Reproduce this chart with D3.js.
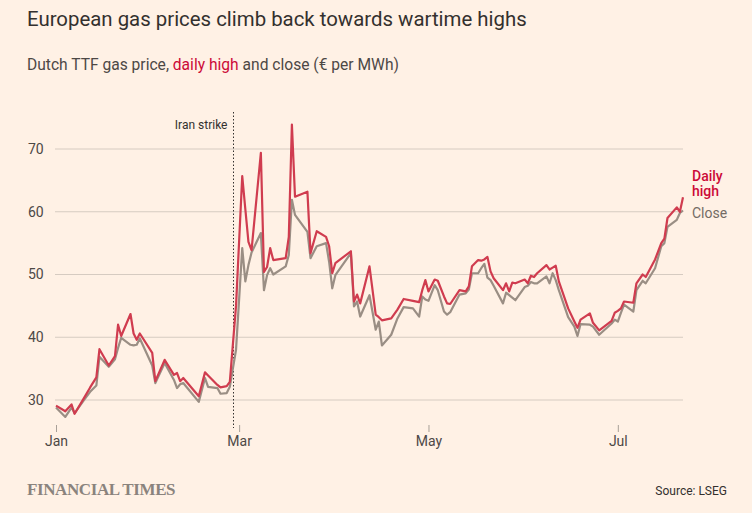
<!DOCTYPE html>
<html>
<head>
<meta charset="utf-8">
<script src="https://cdn.jsdelivr.net/npm/d3@7"></script>
<style>
  body { margin: 0; background: #fff1e5; }
  svg { display: block; }
</style>
</head>
<body>
<svg></svg>
<script>
var dates = [
  "2026-01-01", "2026-01-04", "2026-01-06", "2026-01-07", "2026-01-10", "2026-01-12",
  "2026-01-14", "2026-01-15", "2026-01-18", "2026-01-20", "2026-01-21", "2026-01-22",
  "2026-01-25", "2026-01-26", "2026-01-27", "2026-01-28", "2026-02-01", "2026-02-02",
  "2026-02-05", "2026-02-08", "2026-02-09", "2026-02-10", "2026-02-11", "2026-02-16",
  "2026-02-18", "2026-02-19", "2026-02-22", "2026-02-23", "2026-02-25", "2026-02-26",
  "2026-02-28", "2026-03-02", "2026-03-03", "2026-03-04", "2026-03-05", "2026-03-08",
  "2026-03-09", "2026-03-10", "2026-03-11", "2026-03-12", "2026-03-16", "2026-03-17",
  "2026-03-18", "2026-03-19", "2026-03-23", "2026-03-24", "2026-03-26", "2026-03-29",
  "2026-03-30", "2026-03-31", "2026-04-01", "2026-04-06", "2026-04-07", "2026-04-08",
  "2026-04-09", "2026-04-12", "2026-04-14", "2026-04-15", "2026-04-16", "2026-04-19",
  "2026-04-21", "2026-04-23", "2026-04-26", "2026-04-28", "2026-04-29", "2026-04-30",
  "2026-05-01", "2026-05-03", "2026-05-04", "2026-05-06", "2026-05-07", "2026-05-08",
  "2026-05-11", "2026-05-13", "2026-05-14", "2026-05-15", "2026-05-17", "2026-05-18",
  "2026-05-19", "2026-05-20", "2026-05-21", "2026-05-22", "2026-05-25", "2026-05-26",
  "2026-05-27", "2026-05-28", "2026-05-29", "2026-06-01", "2026-06-02", "2026-06-03",
  "2026-06-04", "2026-06-05", "2026-06-08", "2026-06-09", "2026-06-10", "2026-06-11",
  "2026-06-12", "2026-06-15", "2026-06-17", "2026-06-18", "2026-06-19", "2026-06-22",
  "2026-06-23", "2026-06-25", "2026-06-29", "2026-06-30", "2026-07-01", "2026-07-02",
  "2026-07-03", "2026-07-06", "2026-07-07", "2026-07-09", "2026-07-10", "2026-07-13",
  "2026-07-15", "2026-07-16", "2026-07-17", "2026-07-20", "2026-07-21", "2026-07-22"
];

var dailyHigh = [
  29.1, 28.2, 29.3, 27.8, 30.3, 32.0,
  33.6, 38.1, 35.5, 37.0, 42.0, 40.2,
  43.7, 40.6, 39.6, 40.6, 37.5, 33.0,
  36.4, 34.0, 34.3, 33.0, 33.5, 30.6,
  34.4, 33.9, 32.4, 32.0, 32.2, 32.9,
  45.0, 65.7, 60.4, 55.2, 53.9, 69.4,
  50.4, 51.2, 54.2, 52.3, 52.6, 56.0,
  73.9, 62.4, 63.2, 53.4, 56.9, 56.0,
  54.5, 50.2, 51.8, 53.7, 45.7, 46.8,
  45.4, 51.3, 43.6, 43.2, 42.7, 43.0,
  44.4, 46.1, 45.8, 45.6, 47.5, 49.1,
  47.3, 49.2, 49.0, 46.5, 45.4, 45.3,
  47.5, 47.3, 48.1, 51.3, 52.3, 52.2,
  52.4, 52.8, 50.5, 49.4, 47.5, 48.6,
  47.3, 48.7, 48.6, 49.2, 48.6, 49.8,
  49.6, 50.2, 51.5, 50.8, 51.1, 51.4,
  48.9, 44.6, 42.5, 41.5, 42.8, 43.8,
  42.3, 41.1, 42.6, 43.9, 44.2, 44.6,
  45.7, 45.5, 48.6, 50.0, 49.6, 52.4,
  55.0, 55.7, 59.0, 60.7, 60.0, 62.3
];

var closePrice = [
  28.8, 27.3, 28.8, 27.9, 30.0, 31.3,
  32.3, 36.9, 35.3, 36.5, 38.3, 39.9,
  38.8, 38.7, 38.8, 39.8, 35.5, 32.7,
  35.9, 33.2, 31.9, 32.5, 32.7, 29.7,
  33.5, 32.1, 31.9, 31.0, 31.1, 32.1,
  38.0, 54.2, 48.9, 51.5, 53.5, 56.6,
  47.5, 49.9, 51.0, 50.0, 51.3, 53.1,
  61.9, 59.5, 56.8, 52.6, 54.5, 55.0,
  52.0, 47.8, 49.9, 53.4, 44.9, 45.7,
  43.3, 46.7, 41.2, 42.5, 38.7, 40.4,
  43.0, 44.8, 44.6, 43.3, 46.5, 46.0,
  45.8, 48.3, 47.5, 44.1, 43.6, 44.0,
  46.8, 47.0, 47.6, 50.2, 50.2, 51.0,
  51.7, 49.5, 49.1, 48.2, 45.4, 47.1,
  46.7, 46.3, 45.9, 48.0, 48.2, 48.8,
  48.6, 48.6, 49.7, 48.6, 50.2, 49.1,
  47.5, 43.2, 41.7, 40.2, 42.1, 42.0,
  41.7, 40.4, 42.2, 42.8, 42.5, 43.9,
  45.2, 44.1, 47.5, 49.0, 48.6, 51.0,
  54.5, 55.0, 57.6, 58.7, 59.8, 60.2
];

var yTicks = [30, 40, 50, 60, 70];
var xTickDates = ["2026-01-01", "2026-03-01", "2026-05-01", "2026-07-01"];
var strikeDate = "2026-02-27";

var width = 752,
  height = 513;

var parse = d3.timeParse("%Y-%m-%d");
var font = "Roboto, 'Noto Sans', sans-serif";

var svg = d3.select("svg").attr("width", width).attr("height", height);

svg.append("rect")
  .attr("width", width)
  .attr("height", height)
  .attr("fill", "#fff1e5");

var x = d3
  .scaleTime()
  .domain([parse("2026-01-01"), parse("2026-07-22")])
  .range([56, 683]);

var y = d3.scaleLinear().domain([30, 70]).range([400, 149]);

// titles
svg.append("text")
  .attr("x", 27)
  .attr("y", 26)
  .attr("font-family", font)
  .attr("font-size", "20.4px")
  .attr("fill", "#33302e")
  .text("European gas prices climb back towards wartime highs");

var sub = svg.append("text")
  .attr("x", 27)
  .attr("y", 70)
  .attr("font-family", font)
  .attr("font-size", "15.6px")
  .attr("fill", "#4d4845");
sub.append("tspan").text("Dutch TTF gas price, ");
sub.append("tspan").attr("fill", "#cc0a37").text("daily high");
sub.append("tspan").text(" and close (€ per MWh)");

// gridlines + y labels
svg.append("g")
  .selectAll("line")
  .data(yTicks)
  .join("line")
  .attr("x1", 55)
  .attr("x2", 683)
  .attr("y1", function (d) { return y(d); })
  .attr("y2", function (d) { return y(d); })
  .attr("stroke", "#d6cbc1")
  .attr("stroke-width", 1);

svg.append("g")
  .selectAll("text")
  .data(yTicks)
  .join("text")
  .attr("x", 28)
  .attr("y", function (d) { return y(d); })
  .attr("dy", "0.35em")
  .attr("font-family", font)
  .attr("font-size", "14px")
  .attr("fill", "#4d4845")
  .text(function (d) { return d; });

// x axis
var xAxis = d3
  .axisBottom(x)
  .tickValues(xTickDates.map(parse))
  .tickFormat(d3.timeFormat("%b"))
  .tickSize(7)
  .tickPadding(4);

var gx = svg.append("g").attr("transform", "translate(0,425)").call(xAxis);
gx.select(".domain").remove();
gx.selectAll(".tick line").attr("stroke", "#a8a098");
gx.selectAll(".tick text")
  .attr("font-family", font)
  .attr("font-size", "14px")
  .attr("fill", "#4d4845");

// Iran strike marker
var sx = Math.round(x(parse(strikeDate))) + 0.5;
svg.append("line")
  .attr("x1", sx)
  .attr("x2", sx)
  .attr("y1", 112)
  .attr("y2", 428)
  .attr("stroke", "#33302e")
  .attr("stroke-width", 1)
  .attr("stroke-dasharray", "1.5,2");

svg.append("text")
  .attr("x", sx - 6)
  .attr("y", 129)
  .attr("text-anchor", "end")
  .attr("font-family", font)
  .attr("font-size", "12px")
  .attr("fill", "#33302e")
  .text("Iran strike");

// lines
var rows = dates.map(function (d, i) {
  return { date: parse(d), high: dailyHigh[i], close: closePrice[i] };
});

var lineClose = d3.line()
  .x(function (d) { return x(d.date); })
  .y(function (d) { return y(d.close); });

var lineHigh = d3.line()
  .x(function (d) { return x(d.date); })
  .y(function (d) { return y(d.high); });

svg.append("path")
  .datum(rows)
  .attr("d", lineClose)
  .attr("fill", "none")
  .attr("stroke", "#9a8e84")
  .attr("stroke-width", 2.2)
  .attr("stroke-linejoin", "round");

svg.append("path")
  .datum(rows)
  .attr("d", lineHigh)
  .attr("fill", "none")
  .attr("stroke", "#d03c4f")
  .attr("stroke-width", 2.2)
  .attr("stroke-linejoin", "round");

// end labels
var endLab = svg.append("text")
  .attr("x", 692)
  .attr("y", 181)
  .attr("font-family", font)
  .attr("font-size", "14px")
  .attr("font-weight", 500)
  .attr("fill", "#cc0a37");
endLab.append("tspan").attr("x", 692).text("Daily");
endLab.append("tspan").attr("x", 692).attr("dy", 15).text("high");

svg.append("text")
  .attr("x", 692)
  .attr("y", 218)
  .attr("font-family", font)
  .attr("font-size", "14px")
  .attr("fill", "#736b64")
  .text("Close");

// footer
svg.append("text")
  .attr("x", 27)
  .attr("y", 495)
  .attr("font-family", "'Liberation Serif', 'DejaVu Serif', serif")
  .attr("font-size", "17px")
  .attr("font-weight", "bold")
  .attr("letter-spacing", "-0.4px")
  .attr("fill", "#8a837d")
  .text("FINANCIAL TIMES");

svg.append("text")
  .attr("x", 727)
  .attr("y", 495)
  .attr("text-anchor", "end")
  .attr("font-family", font)
  .attr("font-size", "12px")
  .attr("fill", "#33302e")
  .text("Source: LSEG");
</script>
</body>
</html>
